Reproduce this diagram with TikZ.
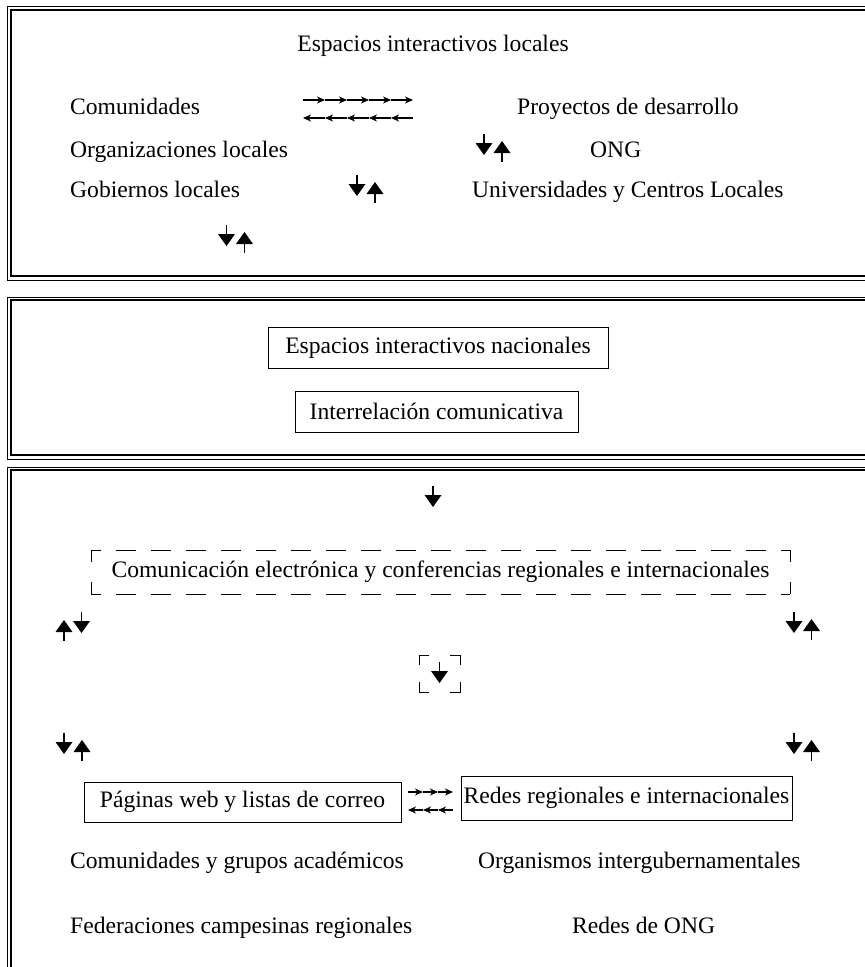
\documentclass[tikz,border=0pt]{standalone}
\usepackage{fontspec}
\setmainfont{Liberation Serif}
\usetikzlibrary{arrows.meta}
\begin{document}
\begin{tikzpicture}[x=1pt,y=-1pt,
  font=\fontsize{23.6}{28}\selectfont,
  txt/.style={anchor=base west, inner sep=0pt},
  ctxt/.style={anchor=base, inner sep=0pt},
  tbox/.style={draw, line width=1pt, inner sep=0pt},
  thinframe/.style={line width=1pt},
  thickframe/.style={line width=2.2pt},
  sarr/.style={line width=1.1pt, -{Stealth[length=8pt,width=7pt,inset=2.5pt]}},
  dashtop/.style={line width=1pt, dash pattern=on 20pt off 15pt, dash phase=10pt},
  dashside/.style={line width=1pt, dash pattern=on 12pt off 20pt},
  dnarrow/.pic={\fill (-8.5,9) -- (8.5,9) -- (0,21) -- cycle; \draw[line width=1.8pt] (0,0) -- (0,11);},
  uparrow/.pic={\fill (-8.5,12) -- (8.5,12) -- (0,0) -- cycle; \draw[line width=1.8pt] (0,10) -- (0,21);}
]
\useasboundingbox (0,0) rectangle (865,967);
\clip (0,0) rectangle (865,967);

% panel frames
\draw[thinframe] (7,6) rectangle (880,280);
\draw[thickframe] (11,10) rectangle (876,276);
\draw[thinframe] (7,297) rectangle (880,459);
\draw[thickframe] (11,300) rectangle (876,455);
\draw[thinframe] (7,467) rectangle (880,995);
\draw[thickframe] (11,470) rectangle (876,991);

% panel 1
\node[ctxt] (loc) at (433,51) {Espacios interactivos locales};
\node[txt] (com) at (70,114) {Comunidades};
\node[txt] (proy) at (517,114) {Proyectos de desarrollo};
\node[txt] (org) at (70,157) {Organizaciones locales};
\node[txt] (ong) at (590,157) {ONG};
\node[txt] (gob) at (70,197) {Gobiernos locales};
\node[txt] (univ) at (472,197) {Universidades y Centros Locales};

\foreach \a/\b in {303/325,325/347,347/369,369/391,391/413}{
  \draw[sarr] (\a,100) -- (\b,100);
  \draw[sarr] (\b,118) -- (\a,118);
}

\pic at (484,134) {dnarrow};
\pic at (502,141) {uparrow};
\pic at (357,175) {dnarrow};
\pic at (375,182) {uparrow};
\pic at (226.5,225) {dnarrow};
\pic at (244.5,232) {uparrow};

% panel 2
\node[tbox, minimum width=340pt, minimum height=41pt] (nac) at (438,347.5) {Espacios interactivos nacionales};
\node[tbox, minimum width=283pt, minimum height=41pt] (inter) at (436.5,411.5) {Interrelación comunicativa};

% panel 3
\pic at (433,486) {dnarrow};

\node[inner sep=0pt, minimum width=699pt, minimum height=44pt] (elec) at (440.5,572) {Comunicación electrónica y conferencias regionales e internacionales};
\draw[dashtop] (91,550) -- (790,550);
\draw[dashtop] (91,594) -- (790,594);
\draw[dashside] (91,550) -- (91,594);
\draw[dashside] (790,550) -- (790,594);

\pic at (64,620) {uparrow};
\pic at (81.5,612) {dnarrow};
\pic at (794,612) {dnarrow};
\pic at (811.5,619) {uparrow};

\draw[line width=1pt] (419,665) -- (419,655) -- (429,655);
\draw[line width=1pt] (450,655) -- (460,655) -- (460,665);
\draw[line width=1pt] (419,682) -- (419,692) -- (429,692);
\draw[line width=1pt] (450,692) -- (460,692) -- (460,682);
\pic at (439.5,662) {dnarrow};

\pic at (64,733) {dnarrow};
\pic at (82,740) {uparrow};
\pic at (794,733) {dnarrow};
\pic at (811.5,740) {uparrow};

\node[tbox, minimum width=317pt, minimum height=40pt] (pag) at (242.5,802) {Páginas web y listas de correo};
\node[tbox, minimum width=331pt, minimum height=44pt] (redes) at (626.5,798) {Redes regionales e internacionales};

\foreach \a/\b in {408/423,423/438,438/453}{
  \draw[sarr] (\a,792) -- (\b,792);
  \draw[sarr] (\b,810) -- (\a,810);
}

\node[txt] (cga) at (70,868) {Comunidades y grupos académicos};
\node[txt] (oig) at (478,868) {Organismos intergubernamentales};
\node[txt] (fed) at (70,933) {Federaciones campesinas regionales};
\node[txt] (rong) at (572,933) {Redes de ONG};
\end{tikzpicture}
\end{document}
